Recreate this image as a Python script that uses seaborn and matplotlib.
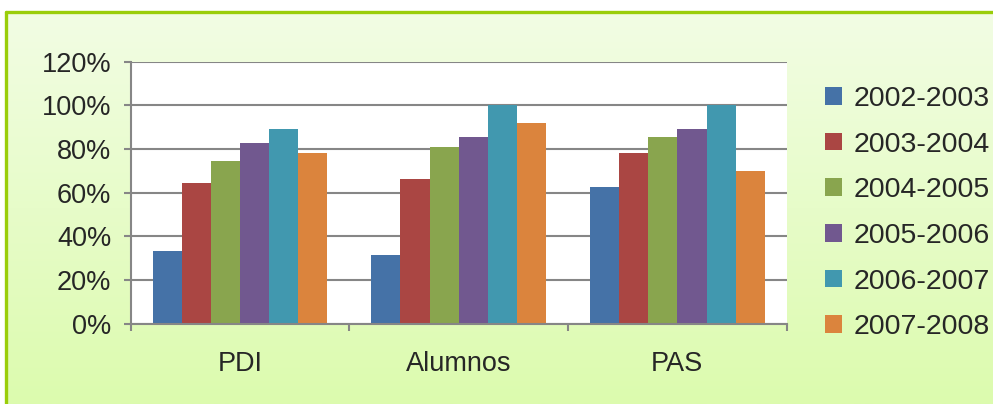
import numpy as np
import pandas as pd
import matplotlib
matplotlib.use('Agg')
import matplotlib.pyplot as plt
import seaborn as sns
from matplotlib.ticker import PercentFormatter, FixedLocator
from matplotlib.lines import Line2D

groups = ['PDI', 'Alumnos', 'PAS']
years = ['2002-2003', '2003-2004', '2004-2005', '2005-2006', '2006-2007', '2007-2008']
pdi = [0.333, 0.645, 0.746, 0.829, 0.893, 0.782]
alumnos = [0.314, 0.663, 0.810, 0.856, 1.000, 0.920]
pas = [0.627, 0.782, 0.856, 0.893, 1.000, 0.700]
colors = ['#4572a7', '#aa4643', '#89a54e', '#71588f', '#4198af', '#db843d']

rows = []
for g, vals in zip(groups, [pdi, alumnos, pas]):
    for y, v in zip(years, vals):
        rows.append({'Grupo': g, 'Curso': y, 'Valor': v})
df = pd.DataFrame(rows)

sns.set_style('white')
plt.rcParams['font.family'] = ['Liberation Sans', 'DejaVu Sans']
fs = 19.5

W, H = 993, 404
fig = plt.figure(figsize=(W / 100, H / 100), dpi=100)
fig.patch.set_facecolor('white')

# background panel with vertical gradient and green frame
bg = fig.add_axes([0, 0, 1, 1], zorder=-5)
bg.set_xlim(0, W)
bg.set_ylim(H, 0)
bg.axis('off')
grad = np.linspace(0, 1, 256).reshape(-1, 1)
top_c = np.array([242, 253, 228]) / 255
bot_c = np.array([220, 251, 174]) / 255
img = top_c + (bot_c - top_c) * grad[..., None]
bg.imshow(img, extent=(6, W, H, 12), aspect='auto')
bg.add_line(Line2D([6, 6], [12, H], color='#9acd0a', lw=2.4))
bg.add_line(Line2D([6, W], [12, 12], color='#9acd0a', lw=2.4))

ax = fig.add_axes([130.7 / W, 1 - 323.5 / H, 656 / W, 261.8 / H])
sns.barplot(data=df, x='Grupo', y='Valor', hue='Curso', palette=colors,
            width=0.8, saturation=1, ax=ax, legend=True)
for p in ax.patches:
    p.set_linewidth(0)

ax.set_facecolor('white')
ax.set_ylim(0, 1.2)
ax.set_xlim(-0.5, 2.5)
ax.set_yticks(np.arange(0, 1.21, 0.2))
ax.yaxis.set_major_formatter(PercentFormatter(1.0, decimals=0))
ax.yaxis.grid(True, color='#868686', lw=1.5)
ax.set_axisbelow(True)
ax.set_xlabel('')
ax.set_ylabel('')
for s in ['top', 'right']:
    ax.spines[s].set_visible(False)
for s in ['left', 'bottom']:
    ax.spines[s].set_color('#868686')
    ax.spines[s].set_linewidth(1.5)
ax.tick_params(axis='y', length=5, width=1.5, color='#868686', labelsize=fs, pad=9, left=True)
ax.tick_params(axis='x', which='major', length=0, labelsize=fs, pad=20)
ax.xaxis.set_minor_locator(FixedLocator([-0.5, 0.5, 1.5, 2.5]))
ax.tick_params(axis='x', which='minor', length=5, width=1.5, color='#868686', bottom=True)

handles, labels = ax.get_legend_handles_labels()
ax.get_legend().remove()
fig.legend(handles, labels, loc='upper left', bbox_to_anchor=(825 / W, 1 - 86 / H),
           frameon=False, fontsize=20.5, handlelength=0.58, handleheight=0.58,
           handletextpad=0.42, labelspacing=0.69, borderpad=0, borderaxespad=0)

fig.savefig('out.png', dpi=100)
